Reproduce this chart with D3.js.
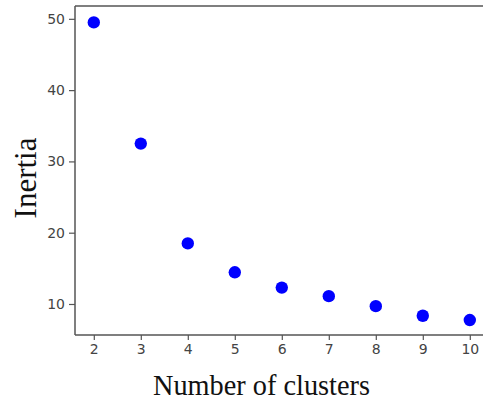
<!DOCTYPE html>
<html>
<head>
<meta charset="utf-8">
<script src="https://cdn.jsdelivr.net/npm/d3@7"></script>
<style>
  body { margin: 0; background: #fff; }
  svg { display: block; }
  .tick text { font-family: "DejaVu Sans", sans-serif; font-size: 14px; fill: #444; }
</style>
</head>
<body>
<svg id="chart" width="483" height="403"></svg>
<script>
// clusters vs inertia (elbow plot)
var clusters = [2, 3, 4, 5, 6, 7, 8, 9, 10]
var inertia  = [49.5, 32.5, 18.5, 14.45, 12.3, 11.1, 9.7, 8.35, 7.75]
var xTicks   = [2, 3, 4, 5, 6, 7, 8, 9, 10]
var yTicks   = [10, 20, 30, 40, 50]

var plotLeft = 75, plotTop = 6, plotBottom = 335

var x = d3.scaleLinear().domain([1.6, 10.4]).range([plotLeft, plotLeft + 8.8 * 47])
var y = d3.scaleLinear().domain([5.65, 51.8]).range([plotBottom, plotTop])

var svg = d3.select('#chart')
var axisColor = '#555'

// frame (right side runs off the picture)
svg.append('line')
    .attr('x1', plotLeft).attr('y1', plotTop)
    .attr('x2', x.range()[1]).attr('y2', plotTop)
    .style('stroke', axisColor).style('stroke-width', 1.5)

var xAxis = svg.append('g')
    .attr('transform', 'translate(0,' + plotBottom + ')')
    .call(d3.axisBottom(x).tickValues(xTicks).tickSize(5).tickPadding(4).tickFormat(d3.format('d')))

var yAxis = svg.append('g')
    .attr('transform', 'translate(' + plotLeft + ',0)')
    .call(d3.axisLeft(y).tickValues(yTicks).tickSize(6).tickPadding(4).tickFormat(d3.format('d')))

svg.selectAll('.domain')
    .attr('stroke', axisColor).attr('stroke-width', 1.5)
svg.selectAll('.tick line')
    .attr('stroke', axisColor).attr('stroke-width', 1.2)

// remove outer ticks from the domain path
xAxis.select('.domain').attr('d', 'M' + plotLeft + ',0H' + x.range()[1])
yAxis.select('.domain').attr('d', 'M0,' + plotTop + 'V' + plotBottom)

svg.selectAll('circle.pt')
    .data(clusters)
    .join('circle')
    .attr('class', 'pt')
    .attr('cx', function(d) { return x(d) })
    .attr('cy', function(d, i) { return y(inertia[i]) })
    .attr('r', 6.2)
    .attr('fill', '#0000ff')

svg.append('text')
    .attr('x', 153).attr('y', 395)
    .attr('textLength', 217)
    .attr('lengthAdjust', 'spacingAndGlyphs')
    .style('font-family', '"Liberation Serif", "Times New Roman", serif')
    .style('font-size', '30px')
    .style('fill', '#111')
    .text('Number of clusters')

svg.append('text')
    .attr('transform', 'translate(36,178) rotate(-90)')
    .attr('text-anchor', 'middle')
    .style('font-family', '"Liberation Serif", "Times New Roman", serif')
    .style('font-size', '31px')
    .style('fill', '#111')
    .text('Inertia')
</script>
</body>
</html>
